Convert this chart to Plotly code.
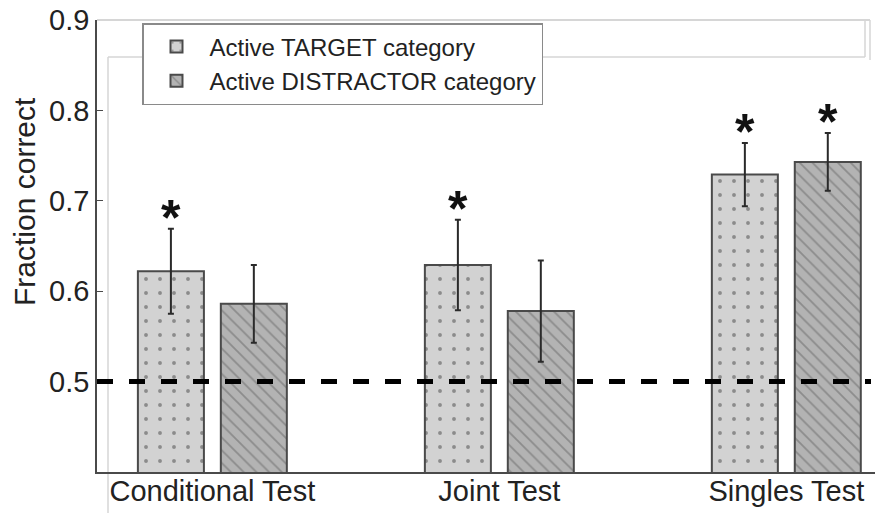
import plotly.graph_objects as go

# ---- data ----
categories = ["Conditional Test", "Joint Test", "Singles Test"]
target_vals = [0.622, 0.629, 0.729]
target_err = [0.047, 0.050, 0.035]
target_sig = [True, True, True]
distractor_vals = [0.586, 0.578, 0.743]
distractor_err = [0.043, 0.056, 0.032]
distractor_sig = [False, False, True]
series_names = ["Active TARGET category", "Active DISTRACTOR category"]
chance_level = 0.5
y_ticks = [0.5, 0.6, 0.7, 0.8, 0.9]
y_title = "Fraction correct"

# ---- layout geometry (viewport pixels; body margin removed in page) ----
W, H = 875, 513
PL, PR, PT, PB = 97, 875, 20, 472          # plot area in pixels
ML, MR, MT, MB = PL, W - PR, PT, H - PB
PW, PH = PR - PL, PB - PT


def px(p):
    return (p - PL) / PW


def py(p):
    return (PB - p) / PH


FONT = "Liberation Sans, Arial, sans-serif"
TXT = "#222222"
EDGE = "#4a4a4a"

fig = go.Figure()
fig.add_trace(go.Bar(
    name=series_names[0], x=categories, y=target_vals,
    error_y=dict(type="data", array=target_err, color="#2a2a2a", thickness=2, width=3),
    marker=dict(color="#d2d2d2", line=dict(color=EDGE, width=2),
                pattern=dict(shape=".", fillmode="overlay", bgcolor="#d2d2d2",
                             fgcolor="#444444", size=14, solidity=0.06)),
))
fig.add_trace(go.Bar(
    name=series_names[1], x=categories, y=distractor_vals,
    error_y=dict(type="data", array=distractor_err, color="#2a2a2a", thickness=2, width=3),
    marker=dict(color="#b3b3b3", line=dict(color=EDGE, width=2),
                pattern=dict(shape="\\", fillmode="overlay", bgcolor="#b3b3b3",
                             fgcolor="#666666", size=9, solidity=0.2)),
))

# significance asterisks
offset = 0.1445
annotations = []
for i, cat in enumerate(categories):
    for vals, errs, sig, sgn in ((target_vals, target_err, target_sig, -1),
                                 (distractor_vals, distractor_err, distractor_sig, 1)):
        if sig[i]:
            annotations.append(dict(
                x=i + sgn * offset, y=vals[i] + errs[i], xref="x", yref="y",
                text="<b>*</b>", showarrow=False, yanchor="bottom",
                yshift=-19, font=dict(size=50, family=FONT, color="#111111"),
            ))

# y-axis title (placed like the original, above the plot's mid-height)
annotations.append(dict(
    x=px(25), y=py(202), xref="paper", yref="paper", text=y_title,
    textangle=-90, showarrow=False, xanchor="center", yanchor="middle",
    font=dict(size=30, family=FONT, color=TXT),
))

grey = "#d6d6d6"
shapes = [
    # chance level
    dict(type="line", xref="paper", yref="y", x0=0, x1=px(871), y0=chance_level, y1=chance_level,
         line=dict(color="black", width=5, dash="16px,16px"), layer="above"),
    # light frame remnants
    dict(type="line", xref="paper", yref="paper", x0=px(97), x1=px(870), y0=py(20), y1=py(20),
         line=dict(color=grey, width=2), layer="below"),
    dict(type="line", xref="paper", yref="paper", x0=px(108), x1=px(865), y0=py(57), y1=py(57),
         line=dict(color=grey, width=1.5), layer="below"),
    dict(type="line", xref="paper", yref="paper", x0=px(108), x1=px(108), y0=py(57), y1=py(513),
         line=dict(color=grey, width=1.5), layer="below"),
    dict(type="line", xref="paper", yref="paper", x0=px(865), x1=px(865), y0=py(20), y1=py(57),
         line=dict(color=grey, width=1.5), layer="below"),
    dict(type="line", xref="paper", yref="paper", x0=px(870), x1=px(870), y0=py(20), y1=py(60),
         line=dict(color=grey, width=1.5), layer="below"),
]

fig.update_layout(
    width=W, height=H,
    margin=dict(l=ML, r=MR, t=MT, b=MB, pad=0, autoexpand=False),
    paper_bgcolor="white", plot_bgcolor="rgba(0,0,0,0)",
    barmode="group", bargap=0.422, bargroupgap=0.204,
    font=dict(family=FONT, color=TXT),
    showlegend=True,
    legend=dict(x=px(142), y=py(23), xanchor="left", yanchor="top",
                bgcolor="white", bordercolor="#8a8a8a", borderwidth=1.5,
                font=dict(size=24, family=FONT, color=TXT),
                tracegroupgap=0, itemwidth=56, itemsizing="constant"),
    xaxis=dict(type="category", range=[-0.402, 2.309], showline=True, linecolor=EDGE,
               linewidth=1.5, ticks="", showgrid=False, zeroline=False,
               ticklabelstandoff=-8,
               tickfont=dict(size=29, family=FONT, color=TXT)),
    yaxis=dict(range=[0.4, 0.9], tickvals=y_ticks, ticktext=[f"{v:.1f}" for v in y_ticks],
               ticks="inside", ticklen=6, tickcolor=EDGE, tickwidth=1,
               showline=True, linecolor=EDGE, linewidth=1.5,
               showgrid=False, zeroline=False, ticklabeloverflow="allow",
               tickfont=dict(size=29, family=FONT, color=TXT)),
    annotations=annotations,
    shapes=shapes,
)

fig.write_html(
    "out.html",
    config={"displayModeBar": False},
    post_script="document.body.style.margin='0';document.body.style.overflow='hidden';",
)
